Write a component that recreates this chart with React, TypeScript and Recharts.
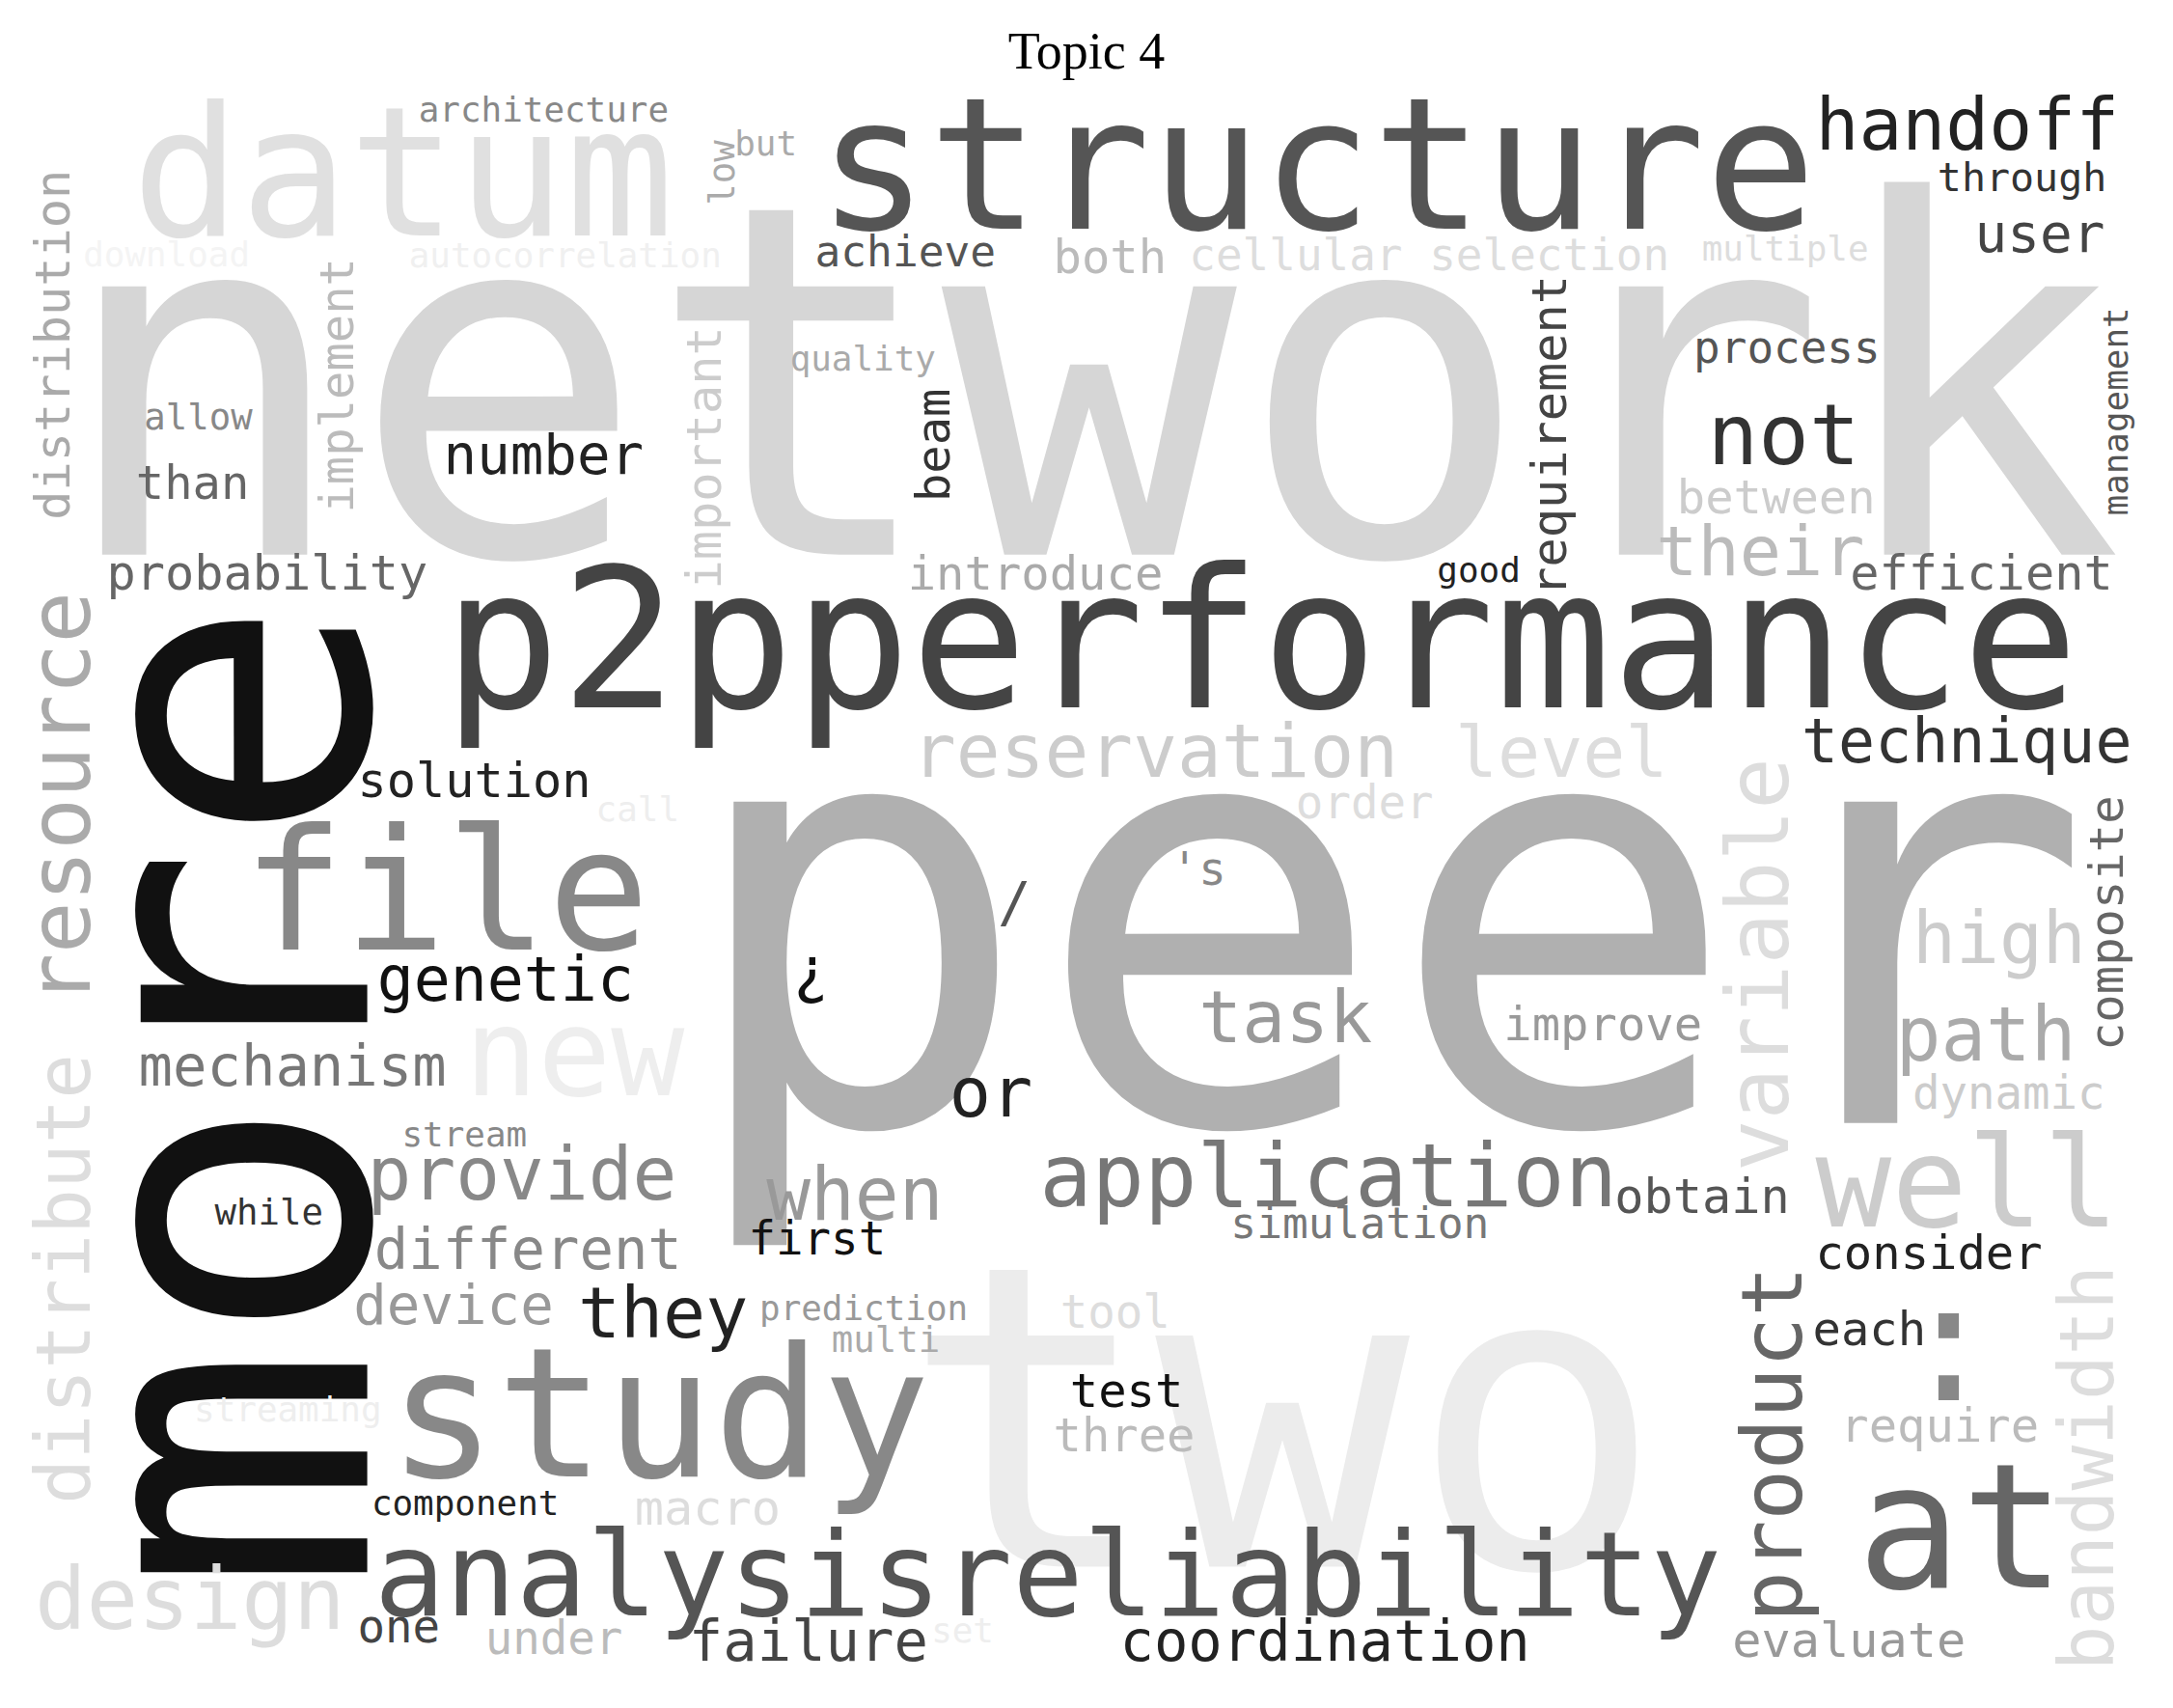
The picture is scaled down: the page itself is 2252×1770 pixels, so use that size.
import React from "react";
import { ScatterChart, Scatter, XAxis, YAxis } from "recharts";

const W = 2252, H = 1770;
const DW = 1568, DH = 1232;
const K = W / DW;

// word, left x (or baseline x when rotated), baseline y (or bottom y when rotated), size, color, rotated
const words: string[] = ["network","peer","two","more","structure","datum","p2pperformance","file","study","analysisreliability","at","well","handoff","through","user","multiple","process","not","between","their","efficient","management","technique","composite","high","path","dynamic","obtain","consider","each","require","evaluate","bandwidth","product",":","variable","requirement","good","introduce","reservation","level","order","'s","/","¿","task","improve","or","application","when","simulation","first","tool","prediction","multi","test","three","macro","set","coordination","failure","under","one","design","component","streaming","they","device","different","provide","while","stream","mechanism","new","genetic","call","solution","probability","resource","distribute","distribution","implement","allow","than","number","important","beam","quality","achieve","both","cellular selection","low","but","architecture","autocorrelation","download"];
const xs: number[] = [40,490,650,265,590,95,320,175,280,270,1340,1310,1310,1398,1425,1228,1222,1232,1210,1195,1335,1535,1300,1532,1380,1368,1380,1165,1310,1308,1328,1250,1525,1300,1370,1290,1130,1037,655,658,1050,935,845,720,572,865,1085,685,750,553,888,540,765,548,600,772,760,458,672,808,497,350,258,25,268,140,417,255,270,265,155,290,100,335,272,430,258,77,65,65,50,255,104,98,320,520,685,570,588,760,858,530,530,302,295,60];
const ys: number[] = [400,810,1130,1150,165,170,510,685,1065,1165,1145,885,108,138,182,188,262,335,370,415,425,372,550,758,695,765,800,875,915,970,1040,1195,1205,1170,1010,845,430,420,425,560,560,590,638,665,715,752,750,805,870,880,893,905,958,952,975,1015,1047,1100,1185,1198,1198,1193,1185,1175,1093,1025,965,955,915,865,883,827,783,790,722,592,575,425,725,1085,375,370,310,360,342,425,362,267,192,197,195,148,112,88,193,192];
const sizes: number[] = [354,424,305,299,133,130,140,122,130,85,125,91,52,29,39,25,32,61,34,50,35,25,44,34,52,54,33,35,34,34,34,35,54,61,120,62,35,25,34,53,51,33,33,40,45,52,34,50,63,53,31,33,33,25,26,34,34,35,25,41,41,33,33,62,25,25,51,40,41,53,26,25,41,88,44,25,35,35,62,54,35,34,26,34,40,35,34,25,31,34,32,26,25,25,25,25];
const colors: string[] = ["#d6d6d6","#b0b0b0","#ececec","#111111","#555555","#e0e0e0","#444444","#888888","#888888","#555555","#666666","#cccccc","#222222","#333333","#444444","#dddddd","#555555","#333333","#cccccc","#bbbbbb","#666666","#555555","#333333","#666666","#cccccc","#aaaaaa","#cccccc","#555555","#222222","#333333","#bbbbbb","#999999","#dddddd","#666666","#888888","#dddddd","#444444","#222222","#aaaaaa","#cccccc","#dddddd","#dddddd","#888888","#555555","#111111","#999999","#999999","#222222","#777777","#999999","#777777","#111111","#dddddd","#999999","#aaaaaa","#111111","#bbbbbb","#dddddd","#eeeeee","#222222","#444444","#bbbbbb","#444444","#dddddd","#222222","#eeeeee","#222222","#999999","#888888","#888888","#333333","#888888","#777777","#eeeeee","#111111","#eeeeee","#222222","#666666","#aaaaaa","#dddddd","#aaaaaa","#bbbbbb","#888888","#666666","#222222","#cccccc","#333333","#aaaaaa","#555555","#bbbbbb","#dddddd","#aaaaaa","#aaaaaa","#888888","#f0f0f0","#f4f4f4"];
const rotated: string[] = ["more","management","composite","bandwidth","product","variable","requirement","resource","distribute","distribution","implement","important","beam","low"];

const data = words.map((w, i) => ({ word: w, x: xs[i], y: ys[i], size: sizes[i], color: colors[i], rot: rotated.includes(w) }));

const WordShape = (props: any) => {
  const { cx, cy, payload } = props;
  const fs = payload.size * K;
  return (
    <text
      x={cx}
      y={cy}
      fontSize={fs}
      fill={payload.color}
      fontFamily="'DejaVu Sans Mono', monospace"
      textAnchor="start"
      transform={payload.rot ? `rotate(-90 ${cx} ${cy})` : undefined}
      style={{ whiteSpace: "pre" }}
    >
      {payload.word}
    </text>
  );
};

export default function App() {
  return (
    <div style={{ position: "absolute", left: 0, top: 0, width: W, height: H, background: "#fff" }}>
      <div style={{ position: "absolute", left: 0, top: 22, width: W, textAlign: "center", fontFamily: "'Liberation Serif', serif", fontSize: 54, color: "#000" }}>
        Topic 4
      </div>
      <ScatterChart width={W} height={H} margin={{ top: 0, right: 0, bottom: 0, left: 0 }}>
        <XAxis type="number" dataKey="x" domain={[0, DW]} hide />
        <YAxis type="number" dataKey="y" domain={[0, DH]} reversed hide />
        <Scatter data={data} shape={WordShape} isAnimationActive={false} />
      </ScatterChart>
    </div>
  );
}
